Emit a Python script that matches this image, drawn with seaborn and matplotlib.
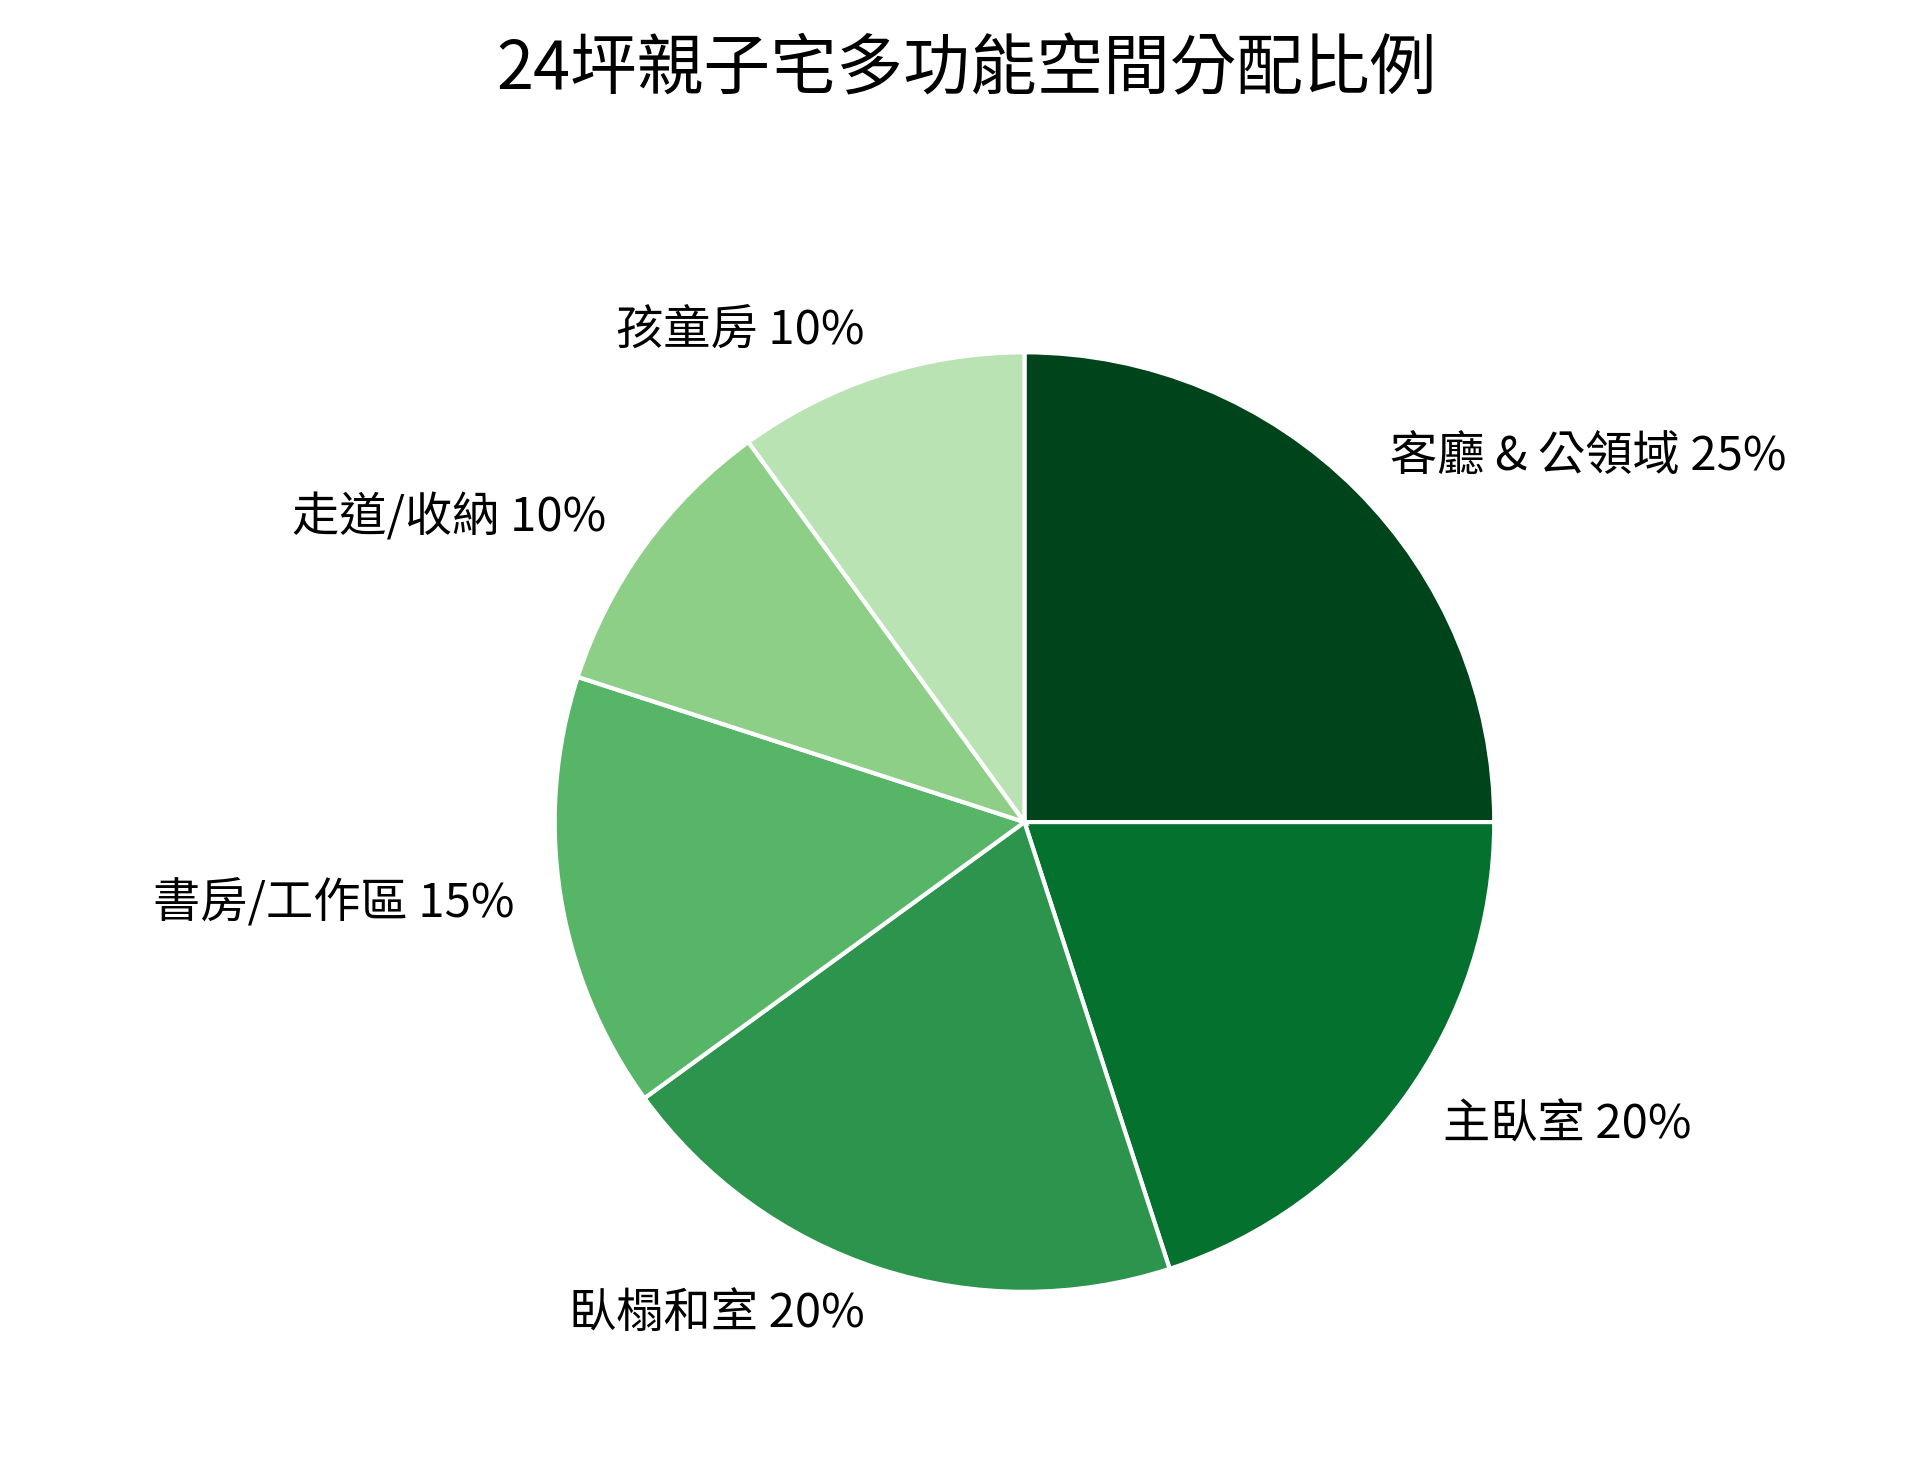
import matplotlib
matplotlib.use("Agg")
import matplotlib.pyplot as plt
import seaborn as sns

sns.set_theme(style="white")
plt.rcParams['font.family'] = ['Noto Sans CJK TC', 'DejaVu Sans']

labels = ["客廳 & 公領域", "主臥室", "臥榻和室", "書房/工作區", "走道/收納", "孩童房"]
values = [25, 20, 20, 15, 10, 10]
colors = ["#00441b", "#04712f", "#2c944c", "#56b567", "#8ecf87", "#b9e3b2"]

texts = [f"{l} {v}%" for l, v in zip(labels, values)]

fig = plt.figure(figsize=(9.665, 7.34), dpi=200)
ax = fig.add_axes([0.015, 0.04, 1.03, 0.8])
ax.pie(values, labels=texts, colors=colors, startangle=90, counterclock=False,
       wedgeprops=dict(edgecolor="white", linewidth=1.5),
       textprops=dict(fontsize=17, color="black"), labeldistance=1.1)
ax.set_aspect("equal")
fig.suptitle("24坪親子宅多功能空間分配比例", fontsize=24, y=0.975, color="black")
fig.savefig("out.png", dpi=200)
